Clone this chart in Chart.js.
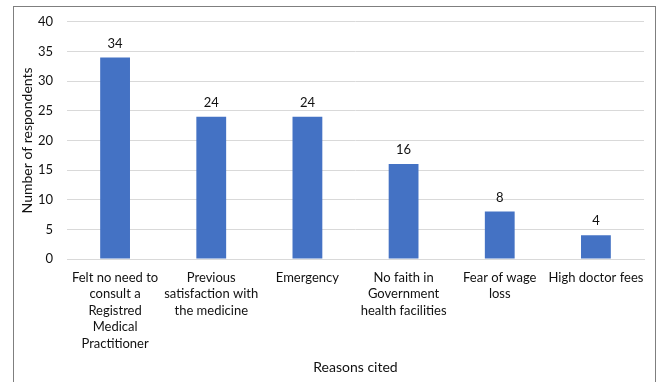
<!DOCTYPE html>
<html>
<head>
<meta charset="utf-8">
<script src="https://cdn.jsdelivr.net/npm/chart.js@4/dist/chart.umd.min.js"></script>
<style>
  html, body { margin: 0; padding: 0; background: #fff; }
  #wrap { position: relative; width: 659px; height: 382px; }
  #frame { position: absolute; left: 13px; top: 6px; width: 643px; height: 400px; border: 1px solid #7f7f7f; box-sizing: border-box; }
  canvas { position: absolute; left: 0; top: 0; }
</style>
</head>
<body>
<div id="wrap">
  <div id="frame"></div>
  <canvas id="c" width="659" height="382"></canvas>
</div>
<script>
const categories = [
  ["Felt no need to", "consult a", "Registred", "Medical", "Practitioner"],
  ["Previous", "satisfaction with", "the medicine"],
  ["Emergency"],
  ["No faith in", "Government", "health facilities"],
  ["Fear of wage", "loss"],
  ["High doctor fees"]
];
const respondents = [34, 24, 24, 16, 8, 4];
const yTicks = [0, 5, 10, 15, 20, 25, 30, 35, 40];
const yTitle = "Number of respondents";
const xTitle = "Reasons cited";

const FONT = "Lato, 'Liberation Sans', sans-serif";
const TXT = "#111111";

const valueLabels = {
  id: 'valueLabels',
  afterDatasetsDraw(chart) {
    const ctx = chart.ctx;
    const meta = chart.getDatasetMeta(0);
    ctx.save();
    ctx.font = "13px " + FONT;
    ctx.fillStyle = TXT;
    ctx.textAlign = 'center';
    ctx.textBaseline = 'middle';
    meta.data.forEach((bar, i) => {
      ctx.fillText(String(respondents[i]), bar.x, bar.y - 14);
    });
    ctx.restore();
  }
};

new Chart(document.getElementById('c'), {
  type: 'bar',
  data: {
    labels: categories,
    datasets: [{
      data: respondents,
      backgroundColor: '#4472C4',
      borderWidth: 0,
      barPercentage: 0.31,
      categoryPercentage: 1.0
    }]
  },
  options: {
    responsive: false,
    animation: false,
    devicePixelRatio: 1,
    layout: { padding: { left: 13, top: 19, right: 15, bottom: 0 } },
    plugins: { legend: { display: false }, tooltip: { enabled: false } },
    scales: {
      x: {
        grid: { display: false, drawTicks: false },
        border: { display: true, color: '#d9d9d9', width: 1 },
        ticks: { color: TXT, font: { family: FONT, size: 13, lineHeight: 1.28 }, padding: 10, maxRotation: 0, autoSkip: false },
        title: { display: true, text: xTitle, color: TXT, font: { family: FONT, size: 14 }, padding: { top: 0, bottom: 6 } },
        afterFit(scale) { scale.height = 123; }
      },
      y: {
        min: 0, max: 40,
        afterBuildTicks(scale) { scale.ticks = yTicks.map(v => ({ value: v })); },
        grid: { color: '#d9d9d9', drawTicks: false, lineWidth: 1 },
        border: { display: false },
        ticks: { color: TXT, font: { family: FONT, size: 13 }, padding: 14 },
        title: { display: true, text: yTitle, color: TXT, font: { family: FONT, size: 14 }, padding: { top: 6, bottom: 0 } },
        afterFit(scale) { scale.width = 54; }
      }
    }
  },
  plugins: [valueLabels]
});
</script>
</body>
</html>
